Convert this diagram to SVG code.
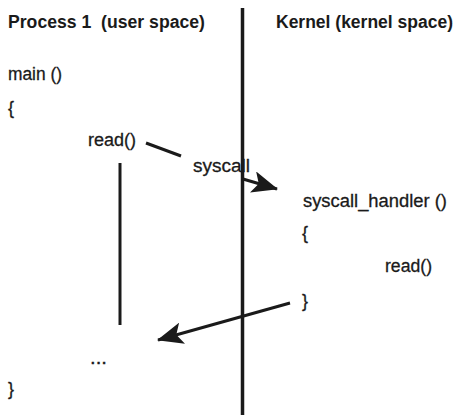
<svg xmlns="http://www.w3.org/2000/svg" width="459" height="415" viewBox="0 0 459 415">
<defs>
<style>
.h{font-family:"Liberation Sans",Arial,sans-serif;font-weight:bold;font-size:18px;fill:#1a1a1a}
.t{font-family:"Liberation Sans",Arial,sans-serif;font-size:18px;fill:#1a1a1a;stroke:#1a1a1a;stroke-width:0.3}
.ln{stroke:#1a1a1a;stroke-width:3;fill:none}
</style>
<marker id="ah" viewBox="0 0 26 22" refX="25" refY="11" markerWidth="26" markerHeight="22" markerUnits="userSpaceOnUse" orient="auto">
<path d="M26,11 L0,0 L6,11 L0,22 Z" fill="#1a1a1a"/>
</marker>
</defs>
<rect width="459" height="415" fill="#fff"/>
<g id="divider"><line x1="242.5" y1="8" x2="242.5" y2="415" stroke="#1a1a1a" stroke-width="3.5"/></g>
<g id="headers">
<text class="h" x="8" y="28" textLength="197" lengthAdjust="spacingAndGlyphs" xml:space="preserve">Process 1  (user space)</text>
<text class="h" x="276" y="28" textLength="177" lengthAdjust="spacingAndGlyphs">Kernel (kernel space)</text>
</g>
<g id="user">
<text class="t" x="8" y="80" textLength="54" lengthAdjust="spacingAndGlyphs">main ()</text>
<text class="t" x="8" y="114">{</text>
<text class="t" x="88" y="146" textLength="48" lengthAdjust="spacingAndGlyphs">read()</text>
<text class="t" x="90" y="364" textLength="17" lengthAdjust="spacingAndGlyphs">...</text>
<text class="t" x="8" y="395">}</text>
</g>
<g id="syscall-label"><text class="t" x="193" y="172" textLength="57" lengthAdjust="spacingAndGlyphs">syscall</text></g>
<g id="kernel">
<text class="t" x="303" y="207" textLength="144" lengthAdjust="spacingAndGlyphs">syscall_handler ()</text>
<text class="t" x="302" y="239">{</text>
<text class="t" x="385" y="272" textLength="47" lengthAdjust="spacingAndGlyphs">read()</text>
<text class="t" x="302" y="307">}</text>
</g>
<g id="connectors">
<line class="ln" x1="146" y1="143" x2="181" y2="156"/>
<line class="ln" x1="120" y1="163" x2="120" y2="325"/>
<line class="ln" x1="243" y1="179" x2="277" y2="189" marker-end="url(#ah)"/>
<line class="ln" x1="290" y1="303" x2="158" y2="340" marker-end="url(#ah)"/>
</g>
</svg>
